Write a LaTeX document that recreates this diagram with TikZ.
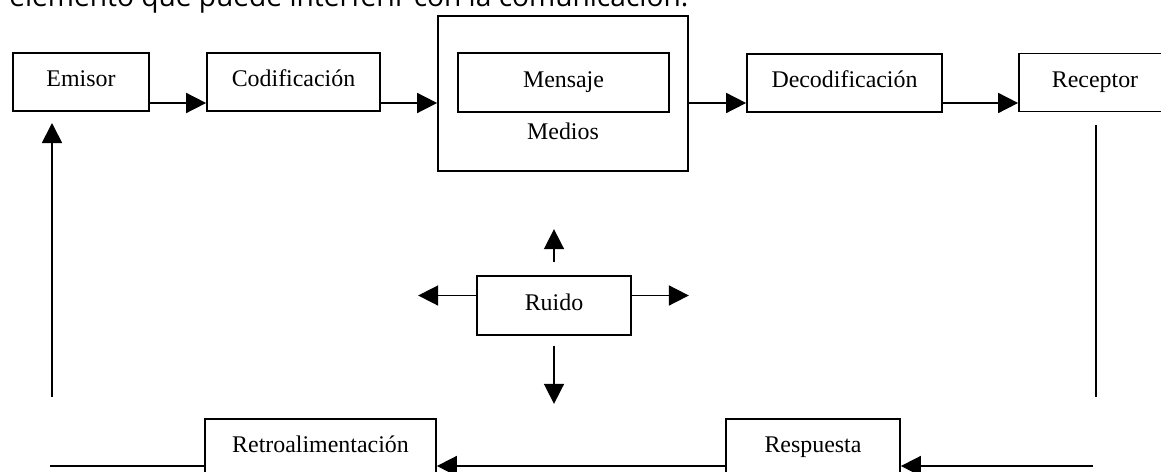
\documentclass[tikz,border=0pt]{standalone}
\usepackage{fontspec}
\setmainfont{Liberation Serif}
\newfontfamily\topfont{Open Sans}
\usetikzlibrary{arrows.meta, calc}

\tikzset{
    caja/.style = {draw, line width = 1.2pt, inner sep = 0pt, minimum height = 1.45cm, text height = 0.66em, text depth = 0pt, font = \fontsize{17}{20}\selectfont},
    flecha/.style = {line width = 1.2pt, -{Triangle[length = 0.5cm, width = 0.5cm]}},
    linea/.style = {line width = 1.2pt}
}

\begin{document}
\begin{tikzpicture}[x = 0.025cm, y = -0.025cm]
    \useasboundingbox (0,0) rectangle (1161,472);
    \clip (0,0) rectangle (1161,472);

    \node[anchor = base west, inner sep = 0pt, font = \topfont\fontsize{20}{24}\selectfont] (txt) at (9,7) {elemento que puede interferir con la comunicación.};

    \node[caja, minimum width = 3.4cm] (emisor) at (81,82) {Emisor};
    \node[caja, minimum width = 4.325cm] (codif) at (293.5,82) {Codificación};
    \node[caja, minimum width = 6.25cm, minimum height = 3.875cm] (medios) at (563,93.5) {};
    \node[caja, minimum width = 5.275cm, minimum height = 1.475cm] (mensaje) at (563.5,82.5) {Mensaje};
    \node[font = \fontsize{17}{20}\selectfont, text height = 0.66em, text depth = 0pt] (mediostxt) at (563,135) {Medios};
    \node[caja, minimum width = 4.875cm] (decod) at (844.5,83) {Decodificación};
    \node[caja, minimum width = 3.8cm] (receptor) at (1095,82.5) {Receptor};

    \node[caja, minimum width = 3.85cm, minimum height = 1.475cm] (ruido) at (554,305.5) {Ruido};

    \node[caja, minimum width = 5.775cm] (retro) at (320.5,448) {Retroalimentación};
    \node[caja, minimum width = 4.35cm] (resp) at (813,448) {Respuesta};

    % fila de flechas de arriba
    \coordinate (fila) at (0,103);
    \draw[flecha] (emisor.east |- fila) -- (codif.west |- fila);
    \draw[flecha] (codif.east |- fila) -- (medios.west |- fila);
    \draw[flecha] (medios.east |- fila) -- (decod.west |- fila);
    \draw[flecha] (decod.east |- fila) -- (receptor.west |- fila);

    % ruido
    \draw[flecha] ($(ruido.north)+(0,-13)$) -- ($(ruido.north)+(0,-46)$);
    \draw[flecha] ($(ruido.south)+(0,10)$) -- ($(ruido.south)+(0,68)$);
    \draw[flecha] ($(ruido.west)+(0,-10)$) -- ($(ruido.west)+(-58,-10)$);
    \draw[flecha] ($(ruido.east)+(0,-10)$) -- ($(ruido.east)+(57,-10)$);

    % vuelta
    \coordinate (rarriba) at (1096,125);
    \coordinate (rabajo) at (1096,397);
    \coordinate (fondo) at (1093,466);
    \coordinate (izq) at (50,466);
    \coordinate (eabajo) at (52,397);
    \coordinate (earriba) at (52,123);

    \draw[linea] (rarriba) -- (rabajo);
    \draw[flecha] (fondo) -- (resp.east |- fondo);
    \draw[flecha] (resp.west |- fondo) -- (retro.east |- fondo);
    \draw[linea] (retro.west |- fondo) -- (izq);
    \draw[flecha] (eabajo) -- (earriba);

\end{tikzpicture}
\end{document}
